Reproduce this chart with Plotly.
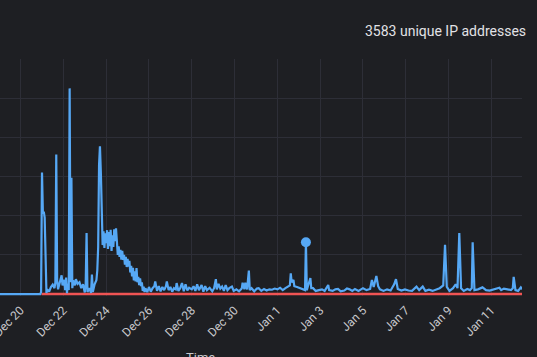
import plotly.graph_objects as go

# ---------------- data ----------------
blue_times = [
    "2023-12-19 00:54", "2023-12-20 22:00", "2023-12-20 23:00",
    "2023-12-21 00:00", "2023-12-21 01:00", "2023-12-21 02:00", "2023-12-21 03:00",
    "2023-12-21 04:00", "2023-12-21 05:00", "2023-12-21 06:00", "2023-12-21 08:00",
    "2023-12-21 10:00", "2023-12-21 12:00", "2023-12-21 14:00", "2023-12-21 15:00",
    "2023-12-21 16:00", "2023-12-21 17:00", "2023-12-21 18:00", "2023-12-21 20:00",
    "2023-12-21 22:00", "2023-12-21 23:00", "2023-12-22 01:00", "2023-12-22 02:00",
    "2023-12-22 03:00", "2023-12-22 04:00", "2023-12-22 05:00", "2023-12-22 06:00",
    "2023-12-22 07:00", "2023-12-22 08:00", "2023-12-22 09:00", "2023-12-22 10:00",
    "2023-12-22 11:00", "2023-12-22 13:00", "2023-12-22 14:00", "2023-12-22 16:00",
    "2023-12-22 18:00", "2023-12-22 20:00", "2023-12-22 22:00", "2023-12-23 00:00",
    "2023-12-23 01:00", "2023-12-23 02:00", "2023-12-23 03:00", "2023-12-23 05:00",
    "2023-12-23 07:00", "2023-12-23 08:00", "2023-12-23 09:00", "2023-12-23 11:00",
    "2023-12-23 13:00", "2023-12-23 14:00", "2023-12-23 15:00", "2023-12-23 16:00",
    "2023-12-23 17:00", "2023-12-23 18:00", "2023-12-23 19:00", "2023-12-23 20:00",
    "2023-12-23 21:00", "2023-12-23 22:00", "2023-12-23 23:00", "2023-12-24 00:00",
    "2023-12-24 01:00", "2023-12-24 02:00", "2023-12-24 03:00", "2023-12-24 04:00",
    "2023-12-24 05:00", "2023-12-24 06:00", "2023-12-24 07:00", "2023-12-24 08:00",
    "2023-12-24 09:00", "2023-12-24 10:00", "2023-12-24 11:00", "2023-12-24 12:00",
    "2023-12-24 13:00", "2023-12-24 14:00", "2023-12-24 15:00", "2023-12-24 16:00",
    "2023-12-24 17:00", "2023-12-24 18:00", "2023-12-24 19:00", "2023-12-24 20:00",
    "2023-12-24 21:00", "2023-12-24 22:00", "2023-12-24 23:00", "2023-12-25 00:00",
    "2023-12-25 01:00", "2023-12-25 02:00", "2023-12-25 03:00", "2023-12-25 04:00",
    "2023-12-25 05:00", "2023-12-25 06:00", "2023-12-25 07:00", "2023-12-25 08:00",
    "2023-12-25 09:00", "2023-12-25 10:00", "2023-12-25 11:00", "2023-12-25 12:00",
    "2023-12-25 13:00", "2023-12-25 14:00", "2023-12-25 15:00", "2023-12-25 16:00",
    "2023-12-25 17:00", "2023-12-25 18:00", "2023-12-25 19:00", "2023-12-25 20:00",
    "2023-12-25 22:00", "2023-12-26 00:00", "2023-12-26 02:00", "2023-12-26 04:00",
    "2023-12-26 06:00", "2023-12-26 07:00", "2023-12-26 09:00", "2023-12-26 11:00",
    "2023-12-26 13:00", "2023-12-26 15:00", "2023-12-26 17:00", "2023-12-26 19:00",
    "2023-12-26 20:00", "2023-12-26 22:00", "2023-12-27 00:00", "2023-12-27 02:00",
    "2023-12-27 04:00", "2023-12-27 06:00", "2023-12-27 07:00", "2023-12-27 09:00",
    "2023-12-27 11:00", "2023-12-27 13:00", "2023-12-27 15:00", "2023-12-27 17:00",
    "2023-12-27 19:00", "2023-12-27 21:00", "2023-12-28 00:00", "2023-12-28 02:00",
    "2023-12-28 04:00", "2023-12-28 06:00", "2023-12-28 08:00", "2023-12-28 11:00",
    "2023-12-28 13:00", "2023-12-28 15:00", "2023-12-28 17:00", "2023-12-28 20:00",
    "2023-12-28 23:00", "2023-12-29 01:00", "2023-12-29 03:00", "2023-12-29 04:00",
    "2023-12-29 06:00", "2023-12-29 08:00", "2023-12-29 10:00", "2023-12-29 12:00",
    "2023-12-29 14:00", "2023-12-29 16:00", "2023-12-29 18:00", "2023-12-29 21:00",
    "2023-12-29 23:00", "2023-12-30 02:00", "2023-12-30 05:00", "2023-12-30 08:00",
    "2023-12-30 09:00", "2023-12-30 11:00", "2023-12-30 12:00", "2023-12-30 14:00",
    "2023-12-30 16:00", "2023-12-30 17:00", "2023-12-30 19:00", "2023-12-30 22:00",
    "2023-12-31 01:00", "2023-12-31 03:00", "2023-12-31 06:00", "2023-12-31 09:00",
    "2023-12-31 12:00", "2023-12-31 15:00", "2023-12-31 18:00", "2023-12-31 21:00",
    "2024-01-01 00:00", "2024-01-01 03:00", "2024-01-01 06:00", "2024-01-01 09:00",
    "2024-01-01 12:00", "2024-01-01 14:00", "2024-01-01 15:00", "2024-01-01 16:00",
    "2024-01-01 18:00", "2024-01-01 19:00", "2024-01-01 22:00", "2024-01-02 01:00",
    "2024-01-02 04:00", "2024-01-02 07:00", "2024-01-02 08:00", "2024-01-02 09:00",
    "2024-01-02 10:00", "2024-01-02 13:00", "2024-01-02 14:00", "2024-01-02 16:00",
    "2024-01-02 19:00", "2024-01-02 22:00", "2024-01-03 02:00", "2024-01-03 05:00",
    "2024-01-03 09:00", "2024-01-03 10:00", "2024-01-03 14:00", "2024-01-03 17:00",
    "2024-01-03 20:00", "2024-01-03 23:00", "2024-01-04 03:00", "2024-01-04 06:00",
    "2024-01-04 09:00", "2024-01-04 12:00", "2024-01-04 15:00", "2024-01-04 19:00",
    "2024-01-04 22:00", "2024-01-05 00:00", "2024-01-05 04:00", "2024-01-05 08:00",
    "2024-01-05 10:00", "2024-01-05 12:00", "2024-01-05 15:00", "2024-01-05 17:00",
    "2024-01-05 19:00", "2024-01-05 23:00", "2024-01-06 03:00", "2024-01-06 07:00",
    "2024-01-06 11:00", "2024-01-06 13:00", "2024-01-06 15:00", "2024-01-06 19:00",
    "2024-01-06 23:00", "2024-01-07 03:00", "2024-01-07 07:00", "2024-01-07 12:00",
    "2024-01-07 15:00", "2024-01-07 19:00", "2024-01-07 22:00", "2024-01-08 02:00",
    "2024-01-08 06:00", "2024-01-08 10:00", "2024-01-08 14:00", "2024-01-08 18:00",
    "2024-01-08 20:00", "2024-01-08 22:00", "2024-01-09 01:00", "2024-01-09 05:00",
    "2024-01-09 08:00", "2024-01-09 10:00", "2024-01-09 12:00", "2024-01-09 14:00",
    "2024-01-09 17:00", "2024-01-09 21:00", "2024-01-10 00:00", "2024-01-10 02:00",
    "2024-01-10 03:00", "2024-01-10 05:00", "2024-01-10 09:00", "2024-01-10 14:00",
    "2024-01-10 18:00", "2024-01-10 22:00", "2024-01-11 04:00", "2024-01-11 09:00",
    "2024-01-11 11:00", "2024-01-11 14:00", "2024-01-11 18:00", "2024-01-11 22:00",
    "2024-01-12 00:00", "2024-01-12 01:00", "2024-01-12 03:00", "2024-01-12 06:00",
    "2024-01-12 09:00", "2024-01-12 10:20",
]
blue_values = [
    0, 0, 0.5,
    31, 20.5, 21, 19.5,
    6, 0.3, 1.2, 0.6,
    1.8, 2.4, 1.5, 3,
    35.6, 3.5, 1.2, 2.8,
    4.8, 2.2, 3.6, 1.0,
    4.2, 0.2, 2.6, 1.0,
    52.5, 3, 29.7, 1.5,
    3.5, 2.2, 3.8, 2.6,
    3.0, 1.5, 2.5, 0.4,
    2.5, 15.6, 0.5, 1.5,
    0.3, 5, 0.5, 2.5,
    3.5, 6, 12, 33,
    37.7, 31, 16.5, 12.5,
    16, 11.8, 15.5, 13,
    16.3, 11.5, 15.8, 12.2,
    16.4, 11, 15, 12,
    16.5, 13.5, 16.8, 12,
    10, 12.2, 9.5, 11.3,
    8.8, 11, 8.7, 10,
    7.5, 9.5, 6.9, 9,
    7, 8.5, 5.5, 7.2,
    4.5, 6.7, 3.5, 5.8,
    3.2, 6.6, 3.0, 4.4,
    2.3, 4.0, 2.0, 3.0,
    0.8, 1.9, 0.5, 1.5,
    0.5, 1.8, 0.6, 1.5,
    2.0, 3.2, 0.8, 2.0,
    0.7, 1.8, 1.0, 2.0,
    3.2, 1.0, 1.8, 0.6,
    1.5, 1.2, 2.8, 0.8,
    1.5, 2.8, 0.7, 2.5,
    0.9, 1.6, 1.2, 2.0,
    0.8, 2.5, 1.0, 2.3,
    0.6, 2.0, 1.0, 1.6,
    0.7, 1.5, 3.8, 1.2,
    2.6, 1.4, 1.9, 0.8,
    2.3, 1.0, 1.5, 1.9,
    0.8, 1.2, 0.7, 1.4,
    2.9, 1.2, 2.9, 1.2,
    6.0, 1.0, 1.5, 0.7,
    1.4, 1.5, 0.8, 1.3,
    0.9, 1.2, 1.1, 1.4,
    1.2, 1.6, 1.0, 1.5,
    1.8, 2.2, 5.3, 3.0,
    3.6, 2.0, 1.8, 1.5,
    1.2, 1.0, 13.2, 1.0,
    1.8, 4.1, 1.5, 1.5,
    0.8, 1.0, 1.2, 0.8,
    2.3, 1.0, 0.8, 1.2,
    1.3, 0.7, 0.9, 1.4,
    1.2, 0.8, 1.3, 0.8,
    1.3, 1.5, 1.0, 1.3,
    3.6, 1.8, 4.6, 2.0,
    1.2, 0.8, 1.2, 0.9,
    2.5, 3.8, 1.3, 0.9,
    1.2, 0.9, 0.8, 1.9,
    1.0, 1.9, 0.8, 1.1,
    0.8, 1.2, 1.5, 2.2,
    12.6, 1.8, 0.8, 1.5,
    2.5, 1.5, 15.6, 1.5,
    0.8, 1.3, 1.0, 1.5,
    13.2, 1.0, 1.2, 1.7,
    1.0, 0.9, 1.3, 1.6,
    1.0, 1.4, 1.2, 1.0,
    1.5, 4.4, 1.0, 0.8,
    1.7, 1.2,
]

red_times = ["2023-12-20 23:30", "2024-01-12 10:20"]
red_values = [0, 0]

marker_times = ["2024-01-02 08:00"]
marker_values = [13.2]

title_text = "3583 unique IP addresses"
x_axis_title = "Time"

# ---------------- figure ----------------
BG = "#1e1f23"
GRID = "#2d2e37"
BLUE = "#56a8f5"
RED = "#f05454"

fig = go.Figure()
fig.add_trace(go.Scatter(x=red_times, y=red_values, mode="lines",
                         line=dict(color=RED, width=2.5), hoverinfo="skip"))
fig.add_trace(go.Scatter(x=blue_times, y=blue_values, mode="lines",
                         line=dict(color=BLUE, width=2.2)))
fig.add_trace(go.Scatter(x=marker_times, y=marker_values, mode="markers",
                         marker=dict(color=BLUE, size=10)))

fig.update_layout(
    width=537, height=357,
    paper_bgcolor=BG, plot_bgcolor=BG,
    margin=dict(l=0, r=15, t=59, b=61),
    showlegend=False,
    font=dict(family="Roboto, Inter, sans-serif", color="#c8c8cc", size=12),
)
fig.update_xaxes(
    type="date",
    range=["2023-12-19 00:54", "2024-01-12 10:20"],
    tick0="2023-12-20", dtick=2 * 86400000,
    tickformat="%b %-d", tickangle=-45,
    showgrid=True, gridcolor=GRID, gridwidth=1,
    zeroline=False, showline=False, ticks="",
    ticklabelstandoff=4, ticklabeloverflow="allow",
    automargin=False,
    tickfont=dict(color="#c8c8cc", size=12),
)
fig.update_yaxes(
    range=[-0.5, 60], dtick=10, tick0=0,
    showgrid=True, gridcolor=GRID, gridwidth=1,
    zeroline=False, showticklabels=False, automargin=False,
)
fig.add_annotation(
    text=title_text, xref="paper", yref="paper",
    x=(528) / 522, y=1 + (59 - 31) / 237, xanchor="right", yanchor="middle",
    showarrow=False, font=dict(size=14, color="#e2e2e6"),
)
fig.add_annotation(
    text=x_axis_title, xref="paper", yref="paper",
    x=200 / 522, y=(296 - 348) / 237, xanchor="center", yanchor="top",
    showarrow=False, font=dict(size=13, color="#c8c8cc"),
)

fig.write_html(
    "out.html",
    config={"displayModeBar": False},
    post_script="document.body.style.margin='0';document.body.style.background='#1e1f23';document.body.style.overflow='hidden';",
)
